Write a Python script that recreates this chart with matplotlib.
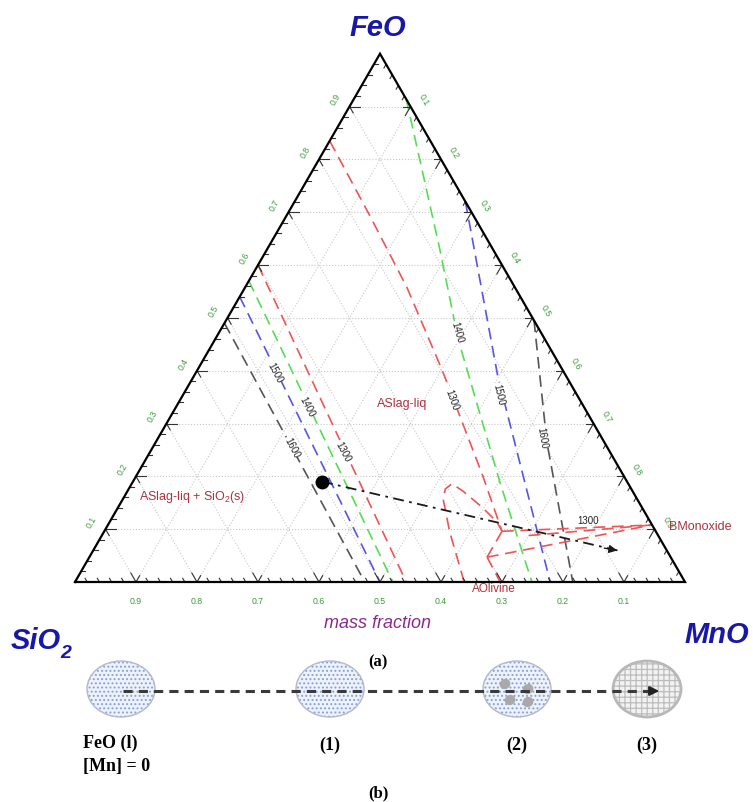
import numpy as np
import matplotlib.pyplot as plt
from matplotlib.patches import Ellipse

plt.rcParams['font.family'] = ['Liberation Sans', 'DejaVu Sans']
plt.rcParams['mathtext.fontset'] = 'custom'
plt.rcParams['mathtext.rm'] = 'Liberation Sans'
plt.rcParams['mathtext.it'] = 'Liberation Sans:italic'
plt.rcParams['mathtext.bf'] = 'Liberation Sans:bold'
plt.rcParams['hatch.linewidth'] = 0.9

# --- data: mass fractions (MnO, FeO); SiO2 = 1 - MnO - FeO ---
temps = [1300, 1400, 1500, 1600]
iso_colors = ['#f05454', '#55dd55', '#5555e6', '#555555']

# SiO2-saturation isotherms: FeO on the SiO2-FeO side, MnO on the SiO2-MnO side
sio2_iso_feo = [0.60, 0.57, 0.54, 0.49]
sio2_iso_mno = [0.543, 0.521, 0.500, 0.475]

# isotherms on the FeO/MnO rich side
red_1300_mno = [0.0, 0.137, 0.265, 0.404, 0.568, 0.652]
red_1300_feo = [0.835, 0.693, 0.558, 0.398, 0.201, 0.096]
green_1400_mno = [0.086, 0.283, 0.398, 0.602, 0.749]
green_1400_feo = [0.914, 0.630, 0.460, 0.189, 0.0]
blue_1500_mno = [0.28, 0.498, 0.779]
blue_1500_feo = [0.72, 0.39, 0.0]
black_1600_mno = [0.505, 0.641, 0.816]
black_1600_feo = [0.495, 0.265, 0.0]

# 1300 olivine loop and monoxide boundaries
loop_mno = [0.638, 0.567, 0.525, 0.519, 0.525, 0.550, 0.596, 0.635, 0.652]
loop_feo = [0.0, 0.0946, 0.157, 0.176, 0.186, 0.172, 0.142, 0.1136, 0.096]
mono_segs = [
    ([0.652, 0.892], [0.096, 0.108]),
    ([0.700, 0.892], [0.088, 0.108]),
    ([0.652, 0.652], [0.096, 0.047]),
    ([0.652, 0.892], [0.047, 0.108]),
    ([0.652, 0.697], [0.047, 0.0]),
]

# path of the slag composition
path_mno = [0.31, 0.864]
path_feo = [0.19, 0.0587]

tick_vals = [0.1, 0.2, 0.3, 0.4, 0.5, 0.6, 0.7, 0.8, 0.9]

# panel (b)
stage_x = [121, 330, 517, 647]
stage_labels = ['', '(1)', '(2)', '(3)']
blob_x = [505, 528, 510, 528]
blob_y = [685, 690, 701, 703]

H = np.sqrt(3) / 2


def tern(mno, feo):
    mno = np.asarray(mno, float)
    feo = np.asarray(feo, float)
    return mno + feo / 2, feo * H


def px(x, y):
    # pixel position on the 753x803 canvas -> data coordinates
    return (x - 75) / 610, (583 - y) / 610


fig = plt.figure(figsize=(7.53, 8.03), dpi=100)
ax = fig.add_axes([0, 0, 1, 1])
ax.set_xlim(-75 / 610, 678 / 610)
ax.set_ylim(-220 / 610, 583 / 610)
ax.axis('off')

# grid
for k in tick_vals:
    x, y = tern([0, 1 - k], [k, k])
    ax.plot(x, y, ls=':', color='#c8c8c8', lw=0.8, zorder=1)
    x, y = tern([k, k], [0, 1 - k])
    ax.plot(x, y, ls=':', color='#c8c8c8', lw=0.8, zorder=1)
    x, y = tern([1 - k, 0], [0, 1 - k])
    ax.plot(x, y, ls=':', color='#c8c8c8', lw=0.8, zorder=1)

# triangle frame
x, y = tern([0, 1, 0, 0], [0, 0, 1, 0])
ax.plot(x, y, color='black', lw=1.6, zorder=5, solid_joinstyle='miter')

# ticks
for i in range(1, 50):
    k = i / 50
    major = i % 5 == 0
    L = 0.017 if major else 0.007
    # left edge (FeO)
    x0, y0 = tern(0, k)
    ax.plot([x0, x0 + L], [y0, y0], color='#333333', lw=0.8, zorder=4)
    if major:
        ax.plot([x0, x0 + 0.5 * 0.012], [y0, y0 - H * 0.012], color='#333333', lw=0.8, zorder=4)
    # right edge (MnO)
    x0, y0 = tern(k, 1 - k)
    ax.plot([x0, x0 - 0.5 * L], [y0, y0 - H * L], color='#333333', lw=0.8, zorder=4)
    if major:
        ax.plot([x0, x0 - 0.012], [y0, y0], color='#333333', lw=0.8, zorder=4)
    # bottom edge (SiO2)
    x0, y0 = tern(k, 0)
    ax.plot([x0, x0 - 0.5 * L], [y0, y0 + H * L], color='#333333', lw=0.8, zorder=4)
    if major:
        ax.plot([x0, x0 + 0.5 * 0.012], [y0, y0 + H * 0.012], color='#333333', lw=0.8, zorder=4)

# tick labels
tcol = '#3c9a3c'
for k in tick_vals:
    lab = '%.1f' % k
    x0, y0 = tern(0, k)
    ax.annotate(lab, (x0, y0), xytext=(-10, 5.5), textcoords='offset points',
                ha='center', va='center', fontsize=6.3, color=tcol, rotation=60)
    x0, y0 = tern(k, 1 - k)
    ax.annotate(lab, (x0, y0), xytext=(9.5, 5.5), textcoords='offset points',
                ha='center', va='center', fontsize=6.3, color=tcol, rotation=-60)
    x0, y0 = tern(1 - k, 0)
    ax.annotate(lab, (x0, y0), xytext=(0, -13), textcoords='offset points',
                ha='center', va='center', fontsize=6.3, color=tcol)

dash = (0, (7, 4))
# SiO2-side isotherms
for f, m, c in zip(sio2_iso_feo, sio2_iso_mno, iso_colors):
    x, y = tern([0, m], [f, 0])
    ax.plot(x, y, ls=dash, color=c, lw=1.2, zorder=3)

# other isotherms
for mm, ff, c in [(red_1300_mno, red_1300_feo, iso_colors[0]),
                  (green_1400_mno, green_1400_feo, iso_colors[1]),
                  (blue_1500_mno, blue_1500_feo, iso_colors[2]),
                  (black_1600_mno, black_1600_feo, iso_colors[3])]:
    x, y = tern(mm, ff)
    ax.plot(x, y, ls=dash, color=c, lw=1.2, zorder=3)

x, y = tern(loop_mno, loop_feo)
ax.plot(x, y, ls=dash, color=iso_colors[0], lw=1.2, zorder=3)
for mm, ff in mono_segs:
    x, y = tern(mm, ff)
    ax.plot(x, y, ls=dash, color=iso_colors[0], lw=1.2, zorder=3)

# isotherm labels
iso_labels = [
    ('1500', 275, 373, -62), ('1400', 307, 407, -62), ('1300', 343, 452, -62),
    ('1600', 292, 448, -62), ('1400', 457, 333, -74), ('1300', 452, 400, -70),
    ('1500', 499, 395, -77), ('1600', 542, 438, -80), ('1300', 588, 521, 0),
]
for t, xx, yy, r in iso_labels:
    ax.text(*px(xx, yy), t, fontsize=7, color='#222222', rotation=r,
            ha='center', va='center', zorder=6,
            bbox=dict(facecolor='white', edgecolor='none', pad=0.3) if r else None)

# composition path
x, y = tern(path_mno, path_feo)
ax.plot(x, y, ls=(0, (6, 3, 1.5, 3)), color='#1a1a1a', lw=1.3, zorder=6)
ax.annotate('', xy=(x[1], y[1]), xytext=(x[1] - 0.03, y[1] + 0.0055),
            arrowprops=dict(arrowstyle='-|>', color='#1a1a1a', lw=1.0,
                            mutation_scale=12), zorder=7)
ax.plot(x[0], y[0], 'o', color='black', ms=9, zorder=8)

# phase region labels
rcol = '#a83440'
ax.text(*px(402, 404), 'ASlag-liq', color=rcol, fontsize=9, ha='center', va='center')
ax.text(*px(139, 497), r'ASlag-liq + SiO$_2$(s)', color=rcol, fontsize=9, ha='left', va='center')
ax.text(*px(669, 527), 'BMonoxide', color=rcol, fontsize=9, ha='left', va='center')
ax.text(*px(494, 589), 'AOlivine', color=rcol, fontsize=8.5, ha='center', va='center')

# corner labels
bcol = '#1818a8'
ax.text(*px(378, 28), 'FeO', color=bcol, fontsize=21, fontweight='bold',
        fontstyle='italic', ha='center', va='center')
ax.text(*px(36, 641), 'SiO', color=bcol, fontsize=21, fontweight='bold',
        fontstyle='italic', ha='center', va='center')
ax.text(*px(66, 654), '2', color=bcol, fontsize=14, fontweight='bold',
        fontstyle='italic', ha='center', va='center')
ax.text(*px(717, 635), 'MnO', color=bcol, fontsize=21, fontweight='bold',
        fontstyle='italic', ha='center', va='center')
ax.text(*px(378, 623), 'mass fraction', color='#8a2a8a', fontsize=13,
        fontstyle='italic', ha='center', va='center')

serif = ['Liberation Serif', 'DejaVu Serif']
ax.text(*px(378, 662), '(a)', family=serif, fontweight='bold', fontsize=12,
        ha='center', va='center')
ax.text(*px(378, 793), '(b)', family=serif, fontweight='bold', fontsize=12,
        ha='center', va='center')

# panel (b): evolution of the oxide
w, h = 68 / 610, 56 / 610
cy = px(0, 690)[1]
for i, sx in enumerate(stage_x):
    cx = px(sx, 0)[0]
    if i < 3:
        ax.add_patch(Ellipse((cx, cy), w, h, facecolor='#eef2fb', edgecolor='#86a0da',
                             hatch='....', lw=0, zorder=2))
        ax.add_patch(Ellipse((cx, cy), w, h, facecolor='none', edgecolor='#b4b8c8',
                             lw=1.0, zorder=3))
    else:
        ax.add_patch(Ellipse((cx, cy), w, h, facecolor='#f2f2f2', edgecolor='#bdbdbd',
                             hatch='+++', lw=0, zorder=2))
        ax.add_patch(Ellipse((cx, cy), w, h, facecolor='none', edgecolor='#b8b8b8',
                             lw=2.0, zorder=3))
    if stage_labels[i]:
        ax.text(cx, px(0, 745)[1], stage_labels[i], family=serif, fontweight='bold',
                fontsize=13, ha='center', va='center')

for bx, by in zip(blob_x, blob_y):
    ax.add_patch(Ellipse(px(bx, by), 11 / 610, 10 / 610, angle=30,
                         facecolor='#a9a9a9', edgecolor='none', zorder=4))

ax.text(*px(83, 743), 'FeO (l)', family=serif, fontweight='bold', fontsize=13,
        ha='left', va='center')
ax.text(*px(83, 767), '[Mn] = 0', family=serif, fontweight='bold', fontsize=13,
        ha='left', va='center')

x0, y0 = px(123, 692)
x1, _ = px(662, 692)
ax.plot([x0, x1 - 0.01], [y0, y0], ls=(0, (3, 2)), color='#3a3a3a', lw=2.2, zorder=5)
ax.annotate('', xy=(x1, y0), xytext=(x1 - 0.02, y0),
            arrowprops=dict(arrowstyle='-|>', color='#222222', lw=1.5,
                            mutation_scale=14), zorder=6)

fig.savefig('out.png', dpi=100)
